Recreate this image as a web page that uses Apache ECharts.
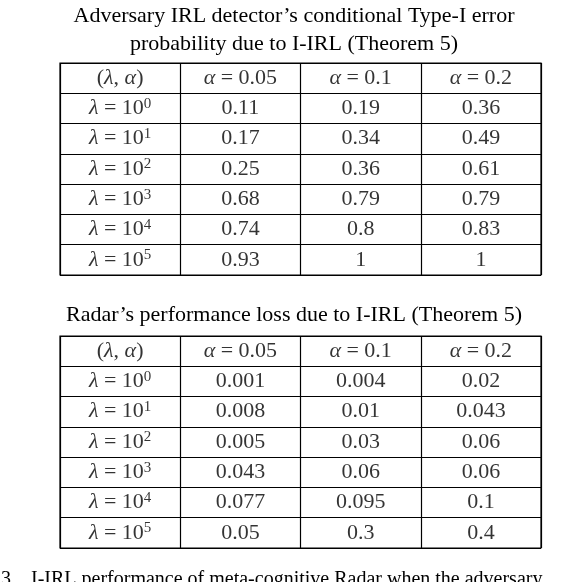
<!DOCTYPE html><html><head><meta charset="utf-8"><script src="https://cdn.jsdelivr.net/npm/echarts@6/dist/echarts.min.js"></script>
<style>body{margin:0;background:#fff}#c{width:588px;height:582px}</style></head><body><div id="c"></div><script>
const colHeaders = ['({i|λ}, {i|α})', '{i|α} = 0.05', '{i|α} = 0.1', '{i|α} = 0.2'];
const rowHeaders = ['{i|λ} = 10{s|0}','{i|λ} = 10{s|1}','{i|λ} = 10{s|2}','{i|λ} = 10{s|3}','{i|λ} = 10{s|4}','{i|λ} = 10{s|5}'];
const table1 = [['0.11','0.19','0.36'],['0.17','0.34','0.49'],['0.25','0.36','0.61'],['0.68','0.79','0.79'],['0.74','0.8','0.83'],['0.93','1','1']];
const table2 = [['0.001','0.004','0.02'],['0.008','0.01','0.043'],['0.005','0.03','0.06'],['0.043','0.06','0.06'],['0.077','0.095','0.1'],['0.05','0.3','0.4']];
const F = 'Liberation Serif';
function cells(t){const d=[];colHeaders.forEach((h,c)=>d.push([c,0,h]));
 rowHeaders.forEach((h,r)=>{d.push([0,r+1,h]);t[r].forEach((v,c)=>d.push([c+1,r+1,v]));});return d;}
const cats=[0,1,2,3], rows=[0,1,2,3,4,5,6];
const grids=[{left:60,width:481,top:63,height:212},{left:60,width:481,top:336,height:212}];
const ax=(g,type)=>({type:'category',gridIndex:g,data:type==='x'?cats:rows,inverse:type==='y',boundaryGap:true,
 axisLabel:{show:false},axisTick:{show:false},axisLine:{show:false},splitLine:{show:true,interval:0,lineStyle:{color:'#000',width:1.2}}});
const ser=(g,t)=>({type:'scatter',xAxisIndex:g,yAxisIndex:g,symbolSize:0,data:cells(t),silent:true,
 label:{show:true,position:'inside',formatter:p=>p.value[2],color:'#000',fontFamily:F,fontSize:22,
  rich:{i:{fontStyle:'italic',fontFamily:F,fontSize:22},s:{fontFamily:F,fontSize:15,padding:[0,0,9,0]}}}});
const ts={fontFamily:F,fontSize:22,fontWeight:'normal',color:'#000',lineHeight:28};
echarts.init(document.getElementById('c')).setOption({animation:false,
 title:[{text:'Adversary IRL detector\u2019s conditional Type-I error\nprobability due to I-IRL (Theorem 5)',left:'center',top:-3,textStyle:ts},
 {text:'Radar\u2019s performance loss due to I-IRL (Theorem 5)',left:'center',top:296,textStyle:ts},
 {text:'3.   I-IRL performance of meta-cognitive Radar when the adversary',left:-4,top:561,textStyle:{...ts,fontSize:20}}],
 grid:grids.map(g=>({...g,show:true,borderColor:'#000',borderWidth:1.2})),
 xAxis:[ax(0,'x'),ax(1,'x')],yAxis:[ax(0,'y'),ax(1,'y')],
 series:[ser(0,table1),ser(1,table2)]});
</script></body></html>
